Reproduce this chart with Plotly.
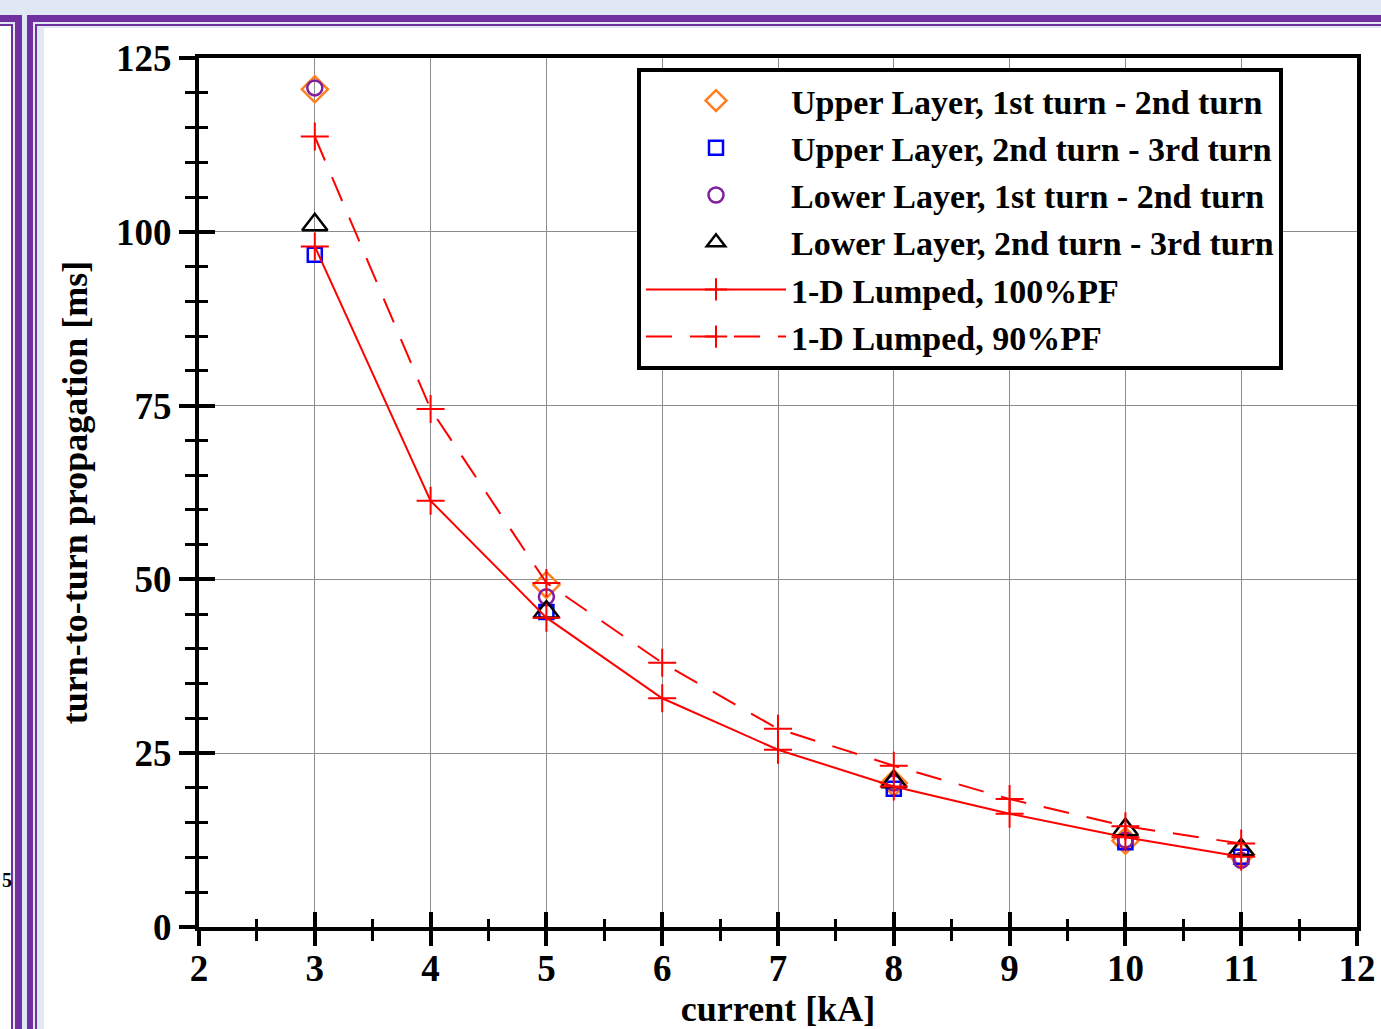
import plotly.graph_objects as go

# ---------------- data ----------------
current = [3, 4, 5, 6, 7, 8, 9, 10, 11]
lumped_100 = [97.9, 61.3, 44.5, 32.9, 25.5, 20.2, 16.3, 12.9, 10.1]
lumped_90 = [113.7, 74.5, 49.5, 38.0, 28.5, 23.2, 18.4, 14.5, 12.0]

meas_current = [3, 5, 8, 10, 11]
upper_1_2 = [120.5, 49.2, 20.7, 12.4, 10.4]
upper_2_3 = [96.7, 45.3, 19.9, 12.2, 10.1]
lower_1_2 = [120.7, 47.5, 20.7, 12.5, 9.6]
lower_2_3 = [101.0, 45.3, 20.9, 14.0, 11.1]

x_ticks = [2, 3, 4, 5, 6, 7, 8, 9, 10, 11, 12]
y_ticks = [0, 25, 50, 75, 100, 125]

FONT = "Liberation Serif, Times New Roman, serif"
W, H = 1381, 1029
ML, MR, MT, MB = 199, 24, 58, 102
PW, PH = W - ML - MR, H - MT - MB


def px(xp):
    return (xp - ML) / PW


def py(yp):
    return (H - MB - yp) / PH


fig = go.Figure()

marker_series = [
    ("Upper Layer, 1st turn - 2nd turn", upper_1_2, "diamond-open", "#ff7f1e", 20),
    ("Upper Layer, 2nd turn - 3rd turn", upper_2_3, "square-open", "#0000ff", 14),
    ("Lower Layer, 1st turn - 2nd turn", lower_1_2, "circle-open", "#7f1f9f", 15),
    ("Lower Layer, 2nd turn - 3rd turn", lower_2_3, "triangle-up-open", "#000000", 22),
]
for name, ys, sym, col, sz in marker_series:
    fig.add_trace(go.Scatter(
        x=meas_current, y=ys, mode="markers", name=name,
        marker=dict(symbol=sym, size=sz, color=col, line=dict(color=col, width=2.5)),
    ))

fig.add_trace(go.Scatter(
    x=current, y=lumped_100, mode="lines+markers", name="1-D Lumped, 100%PF",
    line=dict(color="#ff0000", width=2),
    marker=dict(symbol="cross-thin-open", size=20, color="#ff0000",
                line=dict(color="#ff0000", width=2)),
))
fig.add_trace(go.Scatter(
    x=current, y=lumped_90, mode="lines+markers", name="1-D Lumped, 90%PF",
    line=dict(color="#ff0000", width=2, dash="26px,18px"),
    marker=dict(symbol="cross-thin-open", size=20, color="#ff0000",
                line=dict(color="#ff0000", width=2)),
))

# dummy trace to host overlay axes (inside ticks)
fig.add_trace(go.Scatter(x=[None], y=[None], xaxis="x2", yaxis="y2",
                         showlegend=False, hoverinfo="skip"))

tickfont = dict(family=FONT, size=37, color="black", weight="bold")

fig.update_layout(
    width=W, height=H,
    margin=dict(l=ML, r=MR, t=MT, b=MB, autoexpand=False),
    paper_bgcolor="white", plot_bgcolor="white",
    showlegend=True,
    legend=dict(
        x=px(637), y=py(68), xanchor="left", yanchor="top",
        bgcolor="white", bordercolor="black", borderwidth=4,
        font=dict(family=FONT, size=34, color="black", weight="bold"),
        itemwidth=140, tracegroupgap=0,
    ),
    xaxis=dict(
        range=[2, 12], tickvals=x_ticks, ticktext=[str(v) for v in x_ticks],
        showgrid=True, gridcolor="#8c8c8c", gridwidth=1,
        showline=True, linecolor="black", linewidth=4, mirror=True,
        ticks="outside", ticklen=15, tickwidth=4, tickcolor="black",
        minor=dict(dtick=0.5, ticks="outside", ticklen=10, tickwidth=3,
                   tickcolor="black", showgrid=False),
        tickfont=tickfont, zeroline=False, automargin=False,
        ticklabelstandoff=-9,
        title=dict(text="current [kA]", standoff=20,
                   font=dict(family=FONT, size=36, color="black", weight="bold")),
    ),
    yaxis=dict(
        range=[0, 125], tickvals=y_ticks, ticktext=[str(v) for v in y_ticks],
        showgrid=True, gridcolor="#8c8c8c", gridwidth=1,
        showline=True, linecolor="black", linewidth=4, mirror=True,
        ticks="outside", ticklen=16, tickwidth=4, tickcolor="black",
        minor=dict(dtick=5, ticks="outside", ticklen=10, tickwidth=3,
                   tickcolor="black", showgrid=False),
        tickfont=tickfont, zeroline=False, automargin=False,
        title=dict(text="turn-to-turn propagation [ms]", standoff=18,
                   font=dict(family=FONT, size=36, color="black", weight="bold")),
    ),
    xaxis2=dict(
        range=[2, 12], overlaying="x", anchor="y2", side="bottom",
        tickvals=x_ticks, showticklabels=False, showgrid=False, zeroline=False,
        ticks="inside", ticklen=15, tickwidth=4, tickcolor="black",
        minor=dict(dtick=0.5, ticks="inside", ticklen=8, tickwidth=3, tickcolor="black"),
        showline=False, automargin=False,
    ),
    yaxis2=dict(
        range=[0, 125], overlaying="y", anchor="x2", side="left",
        tickvals=y_ticks, showticklabels=False, showgrid=False, zeroline=False,
        ticks="inside", ticklen=16, tickwidth=4, tickcolor="black",
        minor=dict(dtick=5, ticks="inside", ticklen=9, tickwidth=3, tickcolor="black"),
        showline=False, automargin=False,
    ),
)

# ---- decorative slide frame around the chart ----
LB = "#dfe8f4"
PU = "#7030a0"


def rect(x0, y0, x1, y1, color):
    fig.add_shape(type="rect", xref="paper", yref="paper",
                  x0=px(x0), x1=px(x1), y0=py(y1), y1=py(y0),
                  fillcolor=color, line=dict(width=0), layer="below")


rect(0, 0, W, 28, LB)          # top band
rect(0, 0, 44, H, LB)          # left band
rect(0, 26, 11, H, "white")    # left neighbour panel (white)
rect(0, 15, 22, 22, PU)
rect(0, 24, 13, 26, PU)
rect(11, 24, 13, H, PU)
rect(15, 15, 22, H, PU)
rect(27, 15, W, 22, PU)
rect(27, 15, 33, H, PU)
rect(35, 24, W, 26, PU)
rect(35, 24, 37, H, PU)

fig.add_annotation(text="5", xref="paper", yref="paper", x=px(0), y=py(880),
                   xanchor="left", yanchor="middle", showarrow=False,
                   font=dict(family=FONT, size=20, color="black", weight="bold"))

fig.write_html("out.html")
